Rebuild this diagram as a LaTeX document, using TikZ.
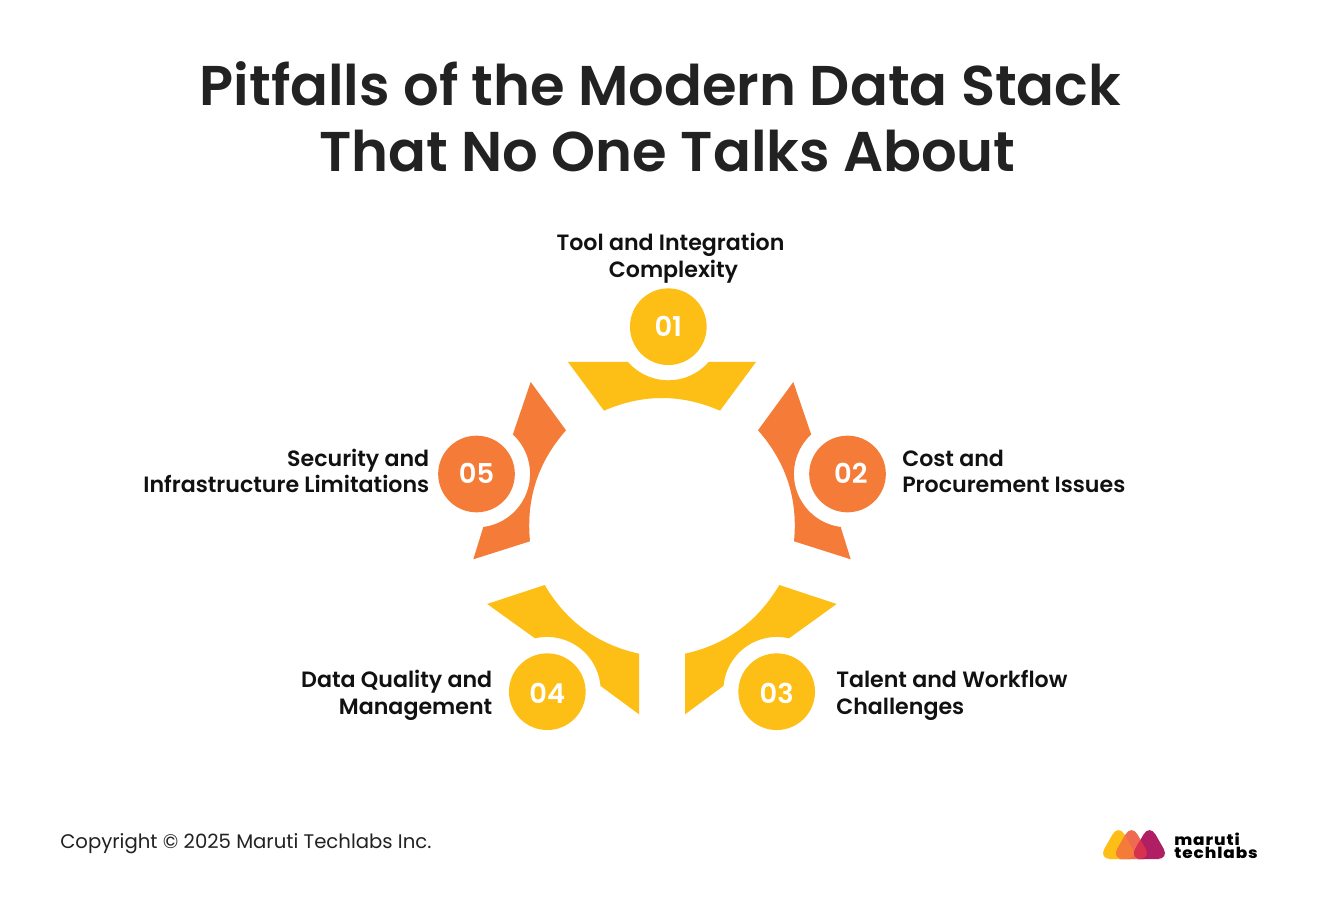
\documentclass[tikz,border=0pt]{standalone}
\usepackage{fontspec}
\setmainfont{Poppins}
\newfontfamily\semi{Poppins SemiBold}
\newfontfamily\logofont[LetterSpace=6,FakeStretch=1.1]{Poppins ExtraBold}
\definecolor{ylw}{HTML}{FDBE16}
\definecolor{org}{HTML}{F57C38}
\definecolor{ttl}{HTML}{222222}
\definecolor{lbl}{HTML}{111111}
\definecolor{mag}{HTML}{B01E63}
\definecolor{cor}{HTML}{EE6A50}
\definecolor{redd}{HTML}{D8304F}
\tikzset{
  titletext/.style={font=\semi\fontsize{42}{49.5}\selectfont,text=ttl,align=center,inner sep=0pt},
  lab/.style={font=\semi\fontsize{16.6}{20.2}\selectfont,text=lbl,inner sep=0pt},
  labtight/.style={font=\semi\fontsize{16.6}{19.5}\selectfont,text=lbl,inner sep=0pt},
  numdisc/.style={circle,minimum size=57.5pt,inner sep=0pt,text=white,text height=14.5pt,text depth=0pt,font=\semi\fontsize{20.5}{24}\selectfont},
  logotri/.style={rounded corners=9pt},
}
\newcommand{\logoA}{(1118.5,859) -- (1098.5,859) -- (1118.5,824) -- (1138.5,859) -- cycle}
\newcommand{\logoB}{(1131.5,859) -- (1111.5,859) -- (1131.5,824) -- (1151.5,859) -- cycle}
\newcommand{\logoC}{(1149.5,859) -- (1129.5,859) -- (1149.5,824) -- (1169.5,859) -- cycle}
\begin{document}
\begin{tikzpicture}[x=0.75pt,y=-0.75pt]
\useasboundingbox (0,0) rectangle (1321,919);
\fill[white] (0,0) rectangle (1321,919);
\node[titletext] (title) at (660.5,117) {Pitfalls of the Modern Data Stack\\\hspace*{10.5pt}That No One Talks About};
% segments
\fill[ylw] (568,362) -- (628,362) arc[start angle=138.8,end angle=40.9,radius=53.6] -- (756,362) -- (720,410.7)
  .. controls (681.3,393.8) and (642.7,393.8) .. (604,410.7) -- cycle;
\fill[org] (793.3,382) -- (758,430.3) .. controls (786.1,462.1) and (798.1,499.1) .. (794,541.3)
  -- (850.7,559.3) -- (840.7,527) arc[start angle=97.3,end angle=227.3,radius=53.6] -- cycle;
\fill[ylw] (779.3,585) -- (836.6,604) -- (789,638.3) arc[start angle=283,end angle=185,radius=53.6]
  -- (685,714.3) -- (685,653.7) .. controls (726.4,644.5) and (757.8,621.6) .. (779.3,585) -- cycle;
\fill[ylw] (544.7,585) -- (487.2,604) -- (535,638.3) arc[start angle=-103,end angle=-5,radius=53.6]
  -- (639,714.3) -- (639,653.7) .. controls (597.6,644.5) and (566.2,621.6) .. (544.7,585) -- cycle;
\fill[org] (530.7,382) -- (566,430.3) .. controls (537.9,462.1) and (525.9,499.1) .. (530,541.3)
  -- (473.3,559.3) -- (483.3,527) arc[start angle=82.7,end angle=-47.3,radius=53.6] -- cycle;
% discs
\node[numdisc,fill=ylw] (n1) at (668.3,326.7) {01};
\node[numdisc,fill=org] (n2) at (847.5,474) {\hspace*{5pt}02};
\node[numdisc,fill=ylw] (n3) at (776.7,691.7) {\raisebox{-1.5pt}{03}};
\node[numdisc,fill=ylw] (n4) at (547.3,691.7) {\raisebox{-1.5pt}{04}};
\node[numdisc,fill=org] (n5) at (476.5,474) {05};
% labels
\node[lab,align=center] (l1) at (670.5,258) {Tool and Integration\\\hspace*{4.5pt}Complexity};
\node[labtight,align=left,anchor=west] (l2) at (902,471.5) {Cost and\\Procurement Issues};
\node[lab,align=left,anchor=west] (l3) at (836,695) {Talent and Workflow\\Challenges};
\node[lab,align=right,anchor=east] (l4) at (492.5,695) {Data Quality and\\Management};
\node[labtight,align=right,anchor=east] (l5) at (429.5,470.7) {Security and\\Infrastructure Limitations};
\node[anchor=west,inner sep=0pt,text=ttl,font=\fontsize{14.75}{18}\selectfont] (copy) at (60,843.5) {Copyright © 2025 Maruti Techlabs Inc.};
% logo
\fill[ylw,logotri] \logoA;
\fill[cor,logotri] \logoB;
\begin{scope}
\clip[logotri] \logoA;
\fill[org,logotri] \logoB;
\end{scope}
\fill[mag,logotri] \logoC;
\begin{scope}
\clip[logotri] \logoB;
\fill[redd,logotri] \logoC;
\end{scope}
\node[anchor=west,inner sep=0pt,text=black,font=\logofont\fontsize{11.5}{10}\selectfont,align=left] (logo) at (1174,845.5) {maruti\\techlabs};
\end{tikzpicture}
\end{document}
